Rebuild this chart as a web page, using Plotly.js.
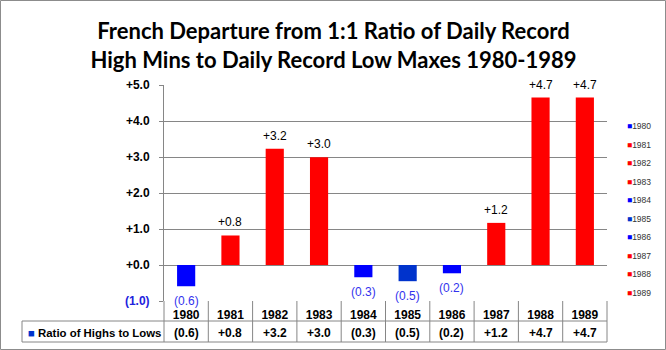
<!DOCTYPE html>
<html>
<head>
<meta charset="utf-8">
<script src="https://cdn.plot.ly/plotly-3.0.1.min.js"></script>
<style>html,body{margin:0;padding:0;background:#fff;} #chart{width:666px;height:350px;}</style>
</head>
<body>
<div id="chart"></div>
<script>
const years = ['1980','1981','1982','1983','1984','1985','1986','1987','1988','1989'];
const values = [-0.59, 0.82, 3.23, 2.99, -0.34, -0.45, -0.23, 1.17, 4.65, 4.65];
const barColors = ['#0000FF','#FF0000','#FF0000','#FF0000','#0000FF','#0033CC','#0000FF','#FF0000','#FF0000','#FF0000'];
const yTickVals = [-1, 0, 1, 2, 3, 4, 5];
const yTickText = ['<span style="color:#2222DD">(1.0)</span>','+0.0','+1.0','+2.0','+3.0','+4.0','+5.0'];
const seriesName = 'Ratio of Highs to Lows';
const titleText = 'French Departure from 1:1 Ratio of Daily Record<br>High Mins to Daily Record Low Maxes 1980-1989';

function fmt(v){ return v < 0 ? '(' + Math.abs(v).toFixed(1) + ')' : '+' + v.toFixed(1); }

const W = 666, H = 350, ML = 164, MR = 59, MT = 85, MB = 49;
const PW = W - ML - MR, PH = H - MT - MB;
const px = x => (x - ML) / PW;
const py = y => (H - MB - y) / PH;

const FONT = 'Liberation Sans, Arial, sans-serif';
const GRID = '#868686';

const shapes = [];
const n = years.length;
// table horizontal lines
[321, 342].forEach(y => shapes.push({type:'line', xref:'paper', yref:'paper', x0:px(22), x1:1, y0:py(y), y1:py(y), line:{color:GRID, width:1}}));
// category dividers
for (let k = 0; k <= n; k++) {
  shapes.push({type:'line', xref:'paper', yref:'paper', x0:k/n, x1:k/n, y0:0, y1:py(342), line:{color:GRID, width:1}});
}
shapes.push({type:'line', xref:'paper', yref:'paper', x0:px(22), x1:px(22), y0:py(321), y1:py(342), line:{color:GRID, width:1}});
// outer border
shapes.push({type:'rect', xref:'paper', yref:'paper', x0:px(0.5), x1:px(665.5), y0:py(349.5), y1:py(0.5), line:{color:'#8c8c8c', width:1}});

const annotations = [];
years.forEach((yr, i) => {
  const v = values[i];
  // data labels above/below bars
  annotations.push({x: i, y: v, xref:'x', yref:'y', text: fmt(v), showarrow:false,
    yanchor:'middle', yshift: v < 0 ? -15 : 13,
    font:{family:FONT, size:12, color: v < 0 ? '#3333EE' : '#000000'}});
  // table value row
  annotations.push({x: i, y: py(332.5), xref:'x', yref:'paper', text: fmt(v), showarrow:false,
    yanchor:'middle', font:{family:FONT, size:12, color:'#000', weight:'bold'}});
  // legend entries
  annotations.push({x: px(625), y: py(126 + i * 18.55), xref:'paper', yref:'paper', xanchor:'left', yanchor:'middle',
    text: '<span style="color:' + barColors[i] + '">■</span>' + yr, showarrow:false,
    font:{family:FONT, size:8.5, color:'#333333'}});
});
annotations.push({x: px(26), y: py(332.5), xref:'paper', yref:'paper', xanchor:'left', yanchor:'middle', showarrow:false,
  text: '<span style="color:#0033CC">■</span> ' + seriesName,
  font:{family:FONT, size:11.4, color:'#000', weight:'bold'}});

const data = [{
  type:'bar', x: years, y: values, name: seriesName,
  marker:{color: barColors, line:{width:0}}, width: 0.41, hoverinfo:'x+y', showlegend:false
}];

const layout = {
  width: W, height: H,
  margin: {l:ML, r:MR, t:MT, b:MB, pad:0},
  paper_bgcolor:'#fff', plot_bgcolor:'#fff',
  showlegend:false,
  title: {text: titleText, x: 333.5/W, xanchor:'center', y: 1 - 39/H, yanchor:'middle', yref:'container',
    font:{family:'Lato, Open Sans, sans-serif', size:22, color:'#000', weight:'bold'}},
  xaxis: {type:'category', range:[-0.5, n - 0.5], showgrid:false, zeroline:false, showline:false,
    ticks:'', tickfont:{family:FONT, size:12, color:'#000', weight:'bold'}, ticklabelstandoff: 5, fixedrange:true},
  yaxis: {range:[-1, 5], tickvals: yTickVals, ticktext: yTickText, showgrid:true, gridcolor:GRID, gridwidth:1,
    zeroline:true, zerolinecolor:GRID, zerolinewidth:1, showline:true, linecolor:GRID, linewidth:1,
    ticks:'outside', ticklen:4, tickcolor:GRID, ticklabelstandoff: 7,
    tickfont:{family:FONT, size:12, color:'#000', weight:'bold'}, fixedrange:true},
  shapes: shapes,
  annotations: annotations
};

Plotly.newPlot('chart', data, layout, {displayModeBar:false, staticPlot:true});
</script>
</body>
</html>
